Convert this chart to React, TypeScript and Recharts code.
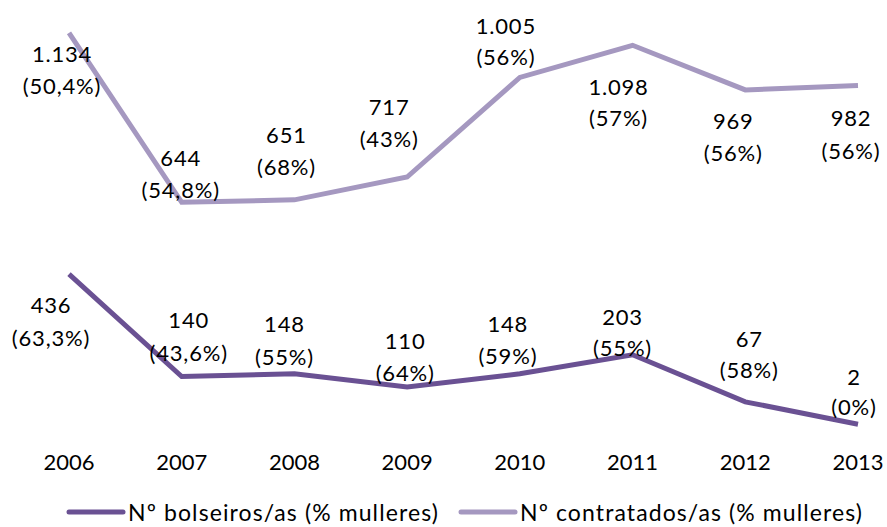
import { LabelList, Legend, Line, LineChart, XAxis, YAxis } from 'recharts';

const years = ['2006', '2007', '2008', '2009', '2010', '2011', '2012', '2013'];
const bolseiros = [436, 140, 148, 110, 148, 203, 67, 2];
const bolseirosPct = ['63,3%', '43,6%', '55%', '64%', '59%', '55%', '58%', '0%'];
const contratados = [1134, 644, 651, 717, 1005, 1098, 969, 982];
const contratadosPct = ['50,4%', '54,8%', '68%', '43%', '56%', '57%', '56%', '56%'];

// label placement around each point: [dx, dy of first line, dy of second line]
const bolseirosLabelPos = [
  [-18, 31, 64], [7, -57, -24], [-10, -50, -17], [-2, -46, -14],
  [-12, -50, -18], [-10, -38, -7], [4, -63, -32], [-4, -47, -17],
];
const contratadosLabelPos = [
  [-7, 21, 53], [-1, -44, -12], [-8, -65, -33], [-18, -70, -38],
  [-14, -51, -20], [-14, 42, 73], [-12, 31, 63], [-7, 33, 66],
];

const data = years.map((year, i) => ({
  year,
  bolseiros: bolseiros[i],
  contratados: contratados[i],
}));

const FONT = 'Lato, "Open Sans", sans-serif';
const DARK = '#6a5193';
const LIGHT = '#a598c0';

const fmt = (n: number) => String(n).replace(/\B(?=(\d{3})+(?!\d))/g, '.');

function makeLabel(values: number[], pcts: string[], pos: number[][]) {
  return (props: any) => {
    const { x, y, index } = props;
    const [dx, dy1, dy2] = pos[index];
    const style = { letterSpacing: 0.8 };
    return (
      <g>
        <text x={x + dx} y={y + dy1 + 8} textAnchor="middle" fontFamily={FONT} fontSize={22} fill="#000" style={style}>
          {fmt(values[index])}
        </text>
        <text x={x + dx} y={y + dy2 + 8} textAnchor="middle" fontFamily={FONT} fontSize={22} fill="#000" style={style}>
          ({pcts[index]})
        </text>
      </g>
    );
  };
}

function renderLegend(props: any) {
  const { payload } = props;
  return (
    <div
      style={{
        display: 'flex',
        alignItems: 'center',
        height: 30,
        paddingLeft: 66,
        fontFamily: FONT,
        fontSize: 23,
        letterSpacing: 1.1,
        color: '#000',
        whiteSpace: 'nowrap',
      }}
    >
      {payload.map((entry: any) => (
        <div key={entry.value} style={{ display: 'flex', alignItems: 'center', minWidth: 392 }}>
          <svg width={60} height={8} style={{ marginRight: 2 }}>
            <line x1={3} y1={4} x2={57} y2={4} stroke={entry.color} strokeWidth={5} strokeLinecap="round" />
          </svg>
          <span>{entry.value}</span>
        </div>
      ))}
    </div>
  );
}

export default function App() {
  return (
    <div>
      <style>{'body{margin:0;background:#fff}'}</style>
      <LineChart width={887} height={527} data={data} margin={{ top: 10, right: 29, left: 69, bottom: 0 }}>
        <XAxis
          dataKey="year"
          axisLine={false}
          tickLine={false}
          height={72}
          tickSize={0}
          tickMargin={29}
          interval={0}
          tick={{ fontFamily: FONT, fontSize: 22, fill: '#000' }}
        />
        <YAxis hide domain={[0, 1200]} />
        <Legend
          verticalAlign="bottom"
          content={renderLegend}
          wrapperStyle={{ left: 0, width: 887, bottom: 0 }}
        />
        <Line
          dataKey="bolseiros"
          name="Nº bolseiros/as (% mulleres)"
          stroke={DARK}
          strokeWidth={5}
          dot={false}
          isAnimationActive={false}
          type="linear"
        >
          <LabelList dataKey="bolseiros" content={makeLabel(bolseiros, bolseirosPct, bolseirosLabelPos)} />
        </Line>
        <Line
          dataKey="contratados"
          name="Nº contratados/as (% mulleres)"
          stroke={LIGHT}
          strokeWidth={5}
          dot={false}
          isAnimationActive={false}
          type="linear"
        >
          <LabelList dataKey="contratados" content={makeLabel(contratados, contratadosPct, contratadosLabelPos)} />
        </Line>
      </LineChart>
    </div>
  );
}
